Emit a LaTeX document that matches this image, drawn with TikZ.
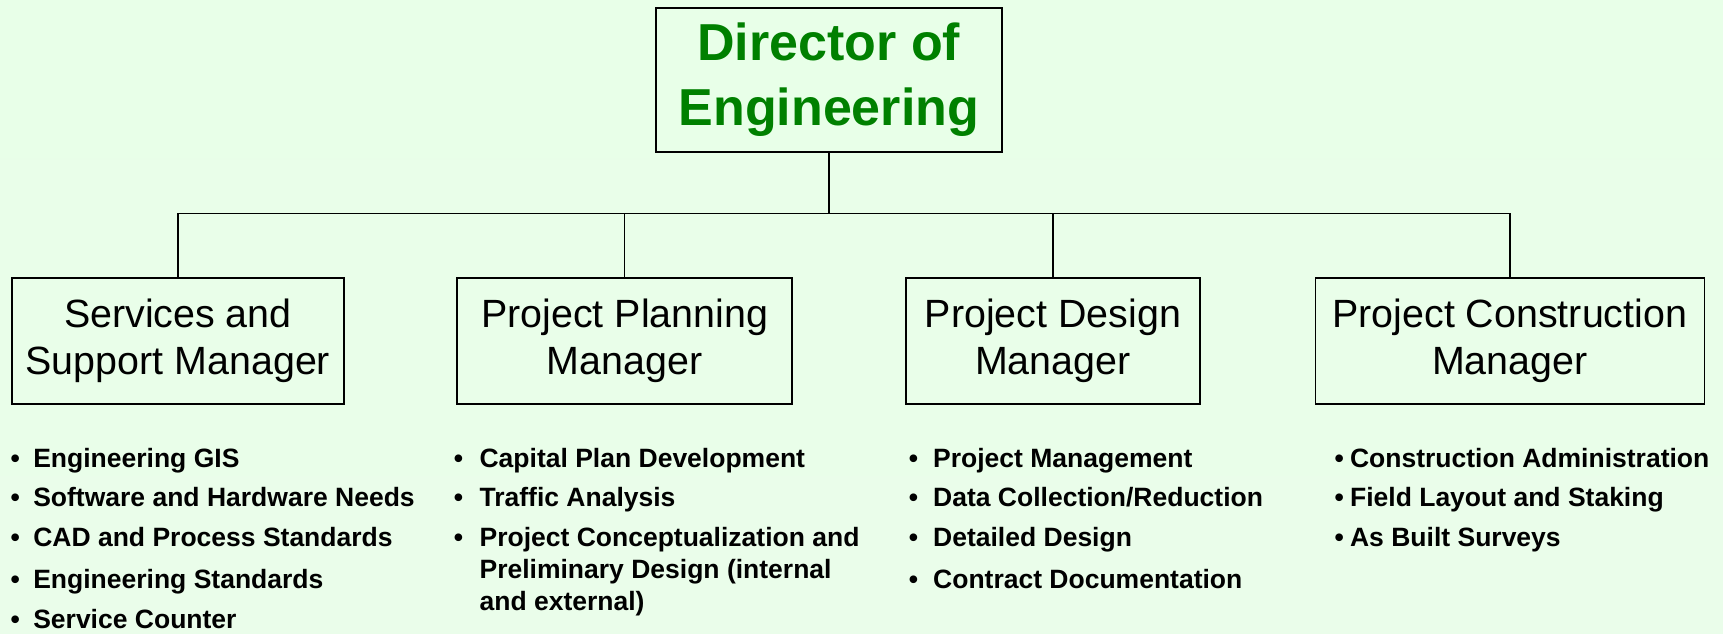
\documentclass[tikz,border=0pt]{standalone}
\usepackage{fontspec}
\setmainfont{Liberation Sans}
\definecolor{bgtop}{RGB}{232,255,232}
\definecolor{bgmid}{RGB}{204,255,204}
\definecolor{bgbot}{RGB}{234,253,234}
\definecolor{dirgreen}{RGB}{0,128,0}
\newcommand{\bul}[1]{\makebox[#1][l]{•}}
\begin{document}
\begin{tikzpicture}[x=1pt,y=-1pt,
  conn/.style={line width=1.5pt},
  dirbox/.style={draw,line width=1.5pt,inner sep=0pt,minimum width=346pt,minimum height=144pt,
    align=center,text=dirgreen,font=\fontsize{52}{65}\selectfont\bfseries},
  mgrbox/.style={draw,line width=1.5pt,inner sep=0pt,minimum height=126pt,
    align=center,font=\fontsize{39.4}{47.4}\selectfont},
  item/.style={anchor=base west,inner sep=0pt,font=\fontsize{26.5}{31.7}\selectfont\bfseries}
]
\useasboundingbox (0,0) rectangle (1723,634);
\fill[top color=bgtop,middle color=bgmid,bottom color=bgbot] (0,0) rectangle (1723,634);

\node[dirbox] (dir) at (828.8,79.9) {Director of\\Engineering};
\node[mgrbox,minimum width=332pt] (m1) at (177.9,340.9) {Services and\\Support Manager};
\node[mgrbox,minimum width=335pt] (m2) at (624.7,340.9) {Project Planning\\Manager};
\node[mgrbox,minimum width=294pt] (m3) at (1052.9,340.9) {Project Design\\Manager};
\node[mgrbox,minimum width=389pt] (m4) at (1509.8,340.9) {Project Construction\\Manager};

\coordinate (bus) at (0,213.5);
\draw[conn] (dir.south) -- (dir.south |- bus);
\draw[conn,line join=miter] (m1.north) -- (m1.north |- bus) -- (m4.north |- bus) -- (m4.north);
\draw[conn] (m2.north) -- (m2.north |- bus);
\draw[conn] (m3.north) -- (m3.north |- bus);

% Services and Support
\node[item] (s1) at (10.4,467.3) {\bul{22.7pt}Engineering GIS};
\node[item] (s2) at (10.4,506.7) {\bul{22.7pt}Software and Hardware Needs};
\node[item] (s3) at (10.4,546.7) {\bul{22.7pt}CAD and Process Standards};
\node[item] (s4) at (10.4,588.3) {\bul{22.7pt}Engineering Standards};
\node[item] (s5) at (10.4,628.3) {\bul{22.7pt}Service Counter};

% Project Planning
\node[item] (p1) at (453.7,467.3) {\bul{25.7pt}Capital Plan Development};
\node[item] (p2) at (453.7,506.7) {\bul{25.7pt}Traffic Analysis};
\node[item] (p3) at (453.7,546.7) {\bul{25.7pt}\parbox[t]{420pt}{\raggedright\fontsize{26.5}{31.7}\selectfont\bfseries Project Conceptualization and\\Preliminary Design (internal\\and external)}};

% Project Design
\node[item] (d1) at (908.7,467.3) {\bul{24.3pt}Project Management};
\node[item] (d2) at (908.7,506.7) {\bul{24.3pt}Data Collection/Reduction};
\node[item] (d3) at (908.7,546.7) {\bul{24.3pt}Detailed Design};
\node[item] (d4) at (908.7,588.3) {\bul{24.3pt}Contract Documentation};

% Project Construction
\node[item] (c1) at (1334.4,467.3) {\bul{15.5pt}Construction Administration};
\node[item] (c2) at (1334.4,506.7) {\bul{15.5pt}Field Layout and Staking};
\node[item] (c3) at (1334.4,546.7) {\bul{15.5pt}As Built Surveys};
\end{tikzpicture}
\end{document}
